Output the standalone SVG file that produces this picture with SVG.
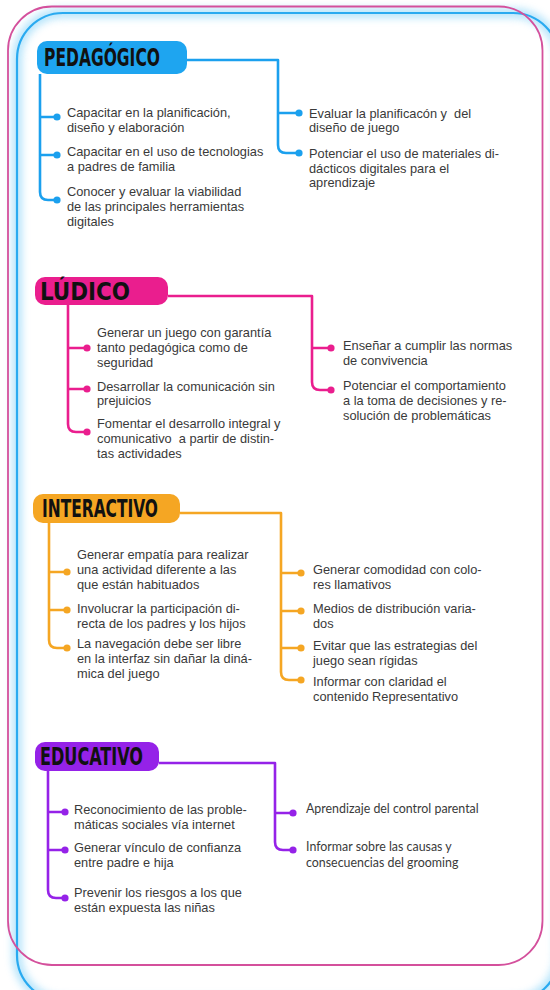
<svg xmlns="http://www.w3.org/2000/svg" width="550" height="990" viewBox="0 0 550 990">
<defs>
<filter id="glow" x="-10%" y="-10%" width="120%" height="120%">
<feGaussianBlur stdDeviation="4"/>
</filter>
<style>
text{white-space:pre}
.t{font-family:"Liberation Sans",Arial,sans-serif;font-size:12.8px;fill:#3a3a3a}
.t2{font-family:Lato,"Open Sans",sans-serif;font-size:12.4px;fill:#3a3a3a}
.h{font-family:"DejaVu Sans Condensed","Liberation Sans Narrow","DejaVu Sans",sans-serif;font-weight:bold;font-size:24px;fill:#111}
.c{fill:none;stroke-width:2.6;stroke-linejoin:round}
.blue{stroke:#1ba0ee}.mag{stroke:#ea1e8e}.ora{stroke:#f5a623}.pur{stroke:#9522e8}
</style>
</defs>
<rect width="550" height="990" fill="#fff"/>
<g id="frame">
<rect x="17" y="13" width="542" height="988" rx="46" fill="none" stroke="#7fd0f8" stroke-width="8" filter="url(#glow)" opacity="0.7"/>
<rect x="17" y="13" width="542" height="988" rx="46" fill="none" stroke="#29aaf0" stroke-width="2.2"/>
<rect x="8" y="6.5" width="534.5" height="958.5" rx="44" fill="none" stroke="#d4509c" stroke-width="1.8"/>
</g>

<g id="connectors">
<path class="c blue" d="M40 74 V192 Q40 200 48 200 H57 M40 117 H57 M40 155 H57"/>
<path class="c blue" d="M187 60 H278 V145 Q278 153 286 153 H299 M278 113 H299"/>
<path class="c mag" d="M68 305 V424 Q68 432 76 432 H87 M68 348 H87 M68 389 H87"/>
<path class="c mag" d="M168 296 H312 V382 Q312 390 320 390 H331 M312 348 H331"/>
<path class="c ora" d="M49 523 V640 Q49 648 57 648 H67 M49 572 H67 M49 610 H67"/>
<path class="c ora" d="M180 513 H281 V672 Q281 680 289 680 H301 M281 573 H301 M281 611 H301 M281 648 H301"/>
<path class="c pur" d="M48 771 V890 Q48 898 56 898 H65 M48 812 H65 M48 850 H65"/>
<path class="c pur" d="M159 763 H275 V842 Q275 850 283 850 H293 M275 813 H293"/>
</g>

<g id="dots">
<g fill="#1ba0ee"><circle cx="57" cy="117" r="3.6"/><circle cx="57" cy="155" r="3.6"/><circle cx="57" cy="200" r="3.6"/><circle cx="299" cy="113" r="3.6"/><circle cx="299" cy="153" r="3.6"/></g>
<g fill="#ea1e8e"><circle cx="87" cy="348" r="3.6"/><circle cx="87" cy="389" r="3.6"/><circle cx="87" cy="432" r="3.6"/><circle cx="331" cy="348" r="3.6"/><circle cx="331" cy="390" r="3.6"/></g>
<g fill="#f5a623"><circle cx="67" cy="572" r="3.6"/><circle cx="67" cy="610" r="3.6"/><circle cx="67" cy="648" r="3.6"/><circle cx="301" cy="573" r="3.6"/><circle cx="301" cy="611" r="3.6"/><circle cx="301" cy="648" r="3.6"/><circle cx="301" cy="680" r="3.6"/></g>
<g fill="#9522e8"><circle cx="65" cy="812" r="3.6"/><circle cx="65" cy="850" r="3.6"/><circle cx="65" cy="898" r="3.6"/><circle cx="293" cy="813" r="3.6"/><circle cx="293" cy="850" r="3.6"/></g>
</g>

<g id="pedagogico">
<rect x="37" y="41" width="150" height="33" rx="10" fill="#1ea5f0"/>
<text class="h" x="44" y="66" textLength="116" lengthAdjust="spacingAndGlyphs">PEDAGÓGICO</text>
</g>
<g id="ped-l1"><text class="t" x="67" y="117"><tspan x="67">Capacitar en la planificación,</tspan><tspan x="67" dy="15">diseño y elaboración</tspan></text></g>
<g id="ped-l2"><text class="t" x="67" y="156"><tspan x="67">Capacitar en el uso de tecnologias</tspan><tspan x="67" dy="15">a padres de familia</tspan></text></g>
<g id="ped-l3"><text class="t" x="67" y="196"><tspan x="67">Conocer y evaluar la viabilidad</tspan><tspan x="67" dy="15">de las principales herramientas</tspan><tspan x="67" dy="15">digitales</tspan></text></g>
<g id="ped-r1"><text class="t" x="309" y="117.5"><tspan x="309">Evaluar la planificacón y  del</tspan><tspan x="309" dy="14.5">diseño de juego</tspan></text></g>
<g id="ped-r2"><text class="t" x="309" y="158"><tspan x="309">Potenciar el uso de materiales di-</tspan><tspan x="309" dy="14.5">dácticos digitales para el</tspan><tspan x="309" dy="14.5">aprendizaje</tspan></text></g>

<g id="ludico">
<rect x="35" y="277" width="133" height="28" rx="10" fill="#ea1e8e"/>
<text class="h" x="40" y="300" textLength="90" lengthAdjust="spacingAndGlyphs">LÚDICO</text>
</g>
<g id="lud-l1"><text class="t" x="97" y="336.5"><tspan x="97">Generar un juego con garantía</tspan><tspan x="97" dy="15">tanto pedagógica como de</tspan><tspan x="97" dy="15">seguridad</tspan></text></g>
<g id="lud-l2"><text class="t" x="97" y="390.5"><tspan x="97">Desarrollar la comunicación sin</tspan><tspan x="97" dy="14.5">prejuicios</tspan></text></g>
<g id="lud-l3"><text class="t" x="97" y="427.5"><tspan x="97">Fomentar el desarrollo integral y</tspan><tspan x="97" dy="15">comunicativo  a partir de distin-</tspan><tspan x="97" dy="15">tas actividades</tspan></text></g>
<g id="lud-r1"><text class="t" x="343" y="349.5"><tspan x="343">Enseñar a cumplir las normas</tspan><tspan x="343" dy="15">de convivencia</tspan></text></g>
<g id="lud-r2"><text class="t" x="343" y="389.5"><tspan x="343">Potenciar el comportamiento</tspan><tspan x="343" dy="15">a la toma de decisiones y re-</tspan><tspan x="343" dy="15">solución de problemáticas</tspan></text></g>

<g id="interactivo">
<rect x="33" y="494" width="147" height="29" rx="10" fill="#f5a623"/>
<text class="h" x="42" y="517" textLength="116" lengthAdjust="spacingAndGlyphs">INTERACTIVO</text>
</g>
<g id="int-l1"><text class="t" x="77" y="559"><tspan x="77">Generar empatía para realizar</tspan><tspan x="77" dy="15">una actividad diferente a las</tspan><tspan x="77" dy="15">que están habituados</tspan></text></g>
<g id="int-l2"><text class="t" x="77" y="612.5"><tspan x="77">Involucrar la participación di-</tspan><tspan x="77" dy="15">recta de los padres y los hijos</tspan></text></g>
<g id="int-l3"><text class="t" x="77" y="647.5"><tspan x="77">La navegación debe ser libre</tspan><tspan x="77" dy="15">en la interfaz sin dañar la diná-</tspan><tspan x="77" dy="15">mica del juego</tspan></text></g>
<g id="int-r1"><text class="t" x="313" y="573.5"><tspan x="313">Generar comodidad con colo-</tspan><tspan x="313" dy="15">res llamativos</tspan></text></g>
<g id="int-r2"><text class="t" x="313" y="612.5"><tspan x="313">Medios de distribución varia-</tspan><tspan x="313" dy="15">dos</tspan></text></g>
<g id="int-r3"><text class="t" x="313" y="649.5"><tspan x="313">Evitar que las estrategias del</tspan><tspan x="313" dy="15">juego sean rígidas</tspan></text></g>
<g id="int-r4"><text class="t" x="313" y="685.5"><tspan x="313">Informar con claridad el</tspan><tspan x="313" dy="15">contenido Representativo</tspan></text></g>

<g id="educativo">
<rect x="35" y="742" width="124" height="29" rx="10" fill="#9522e8"/>
<text class="h" x="40" y="765" textLength="103" lengthAdjust="spacingAndGlyphs">EDUCATIVO</text>
</g>
<g id="edu-l1"><text class="t" x="74" y="814"><tspan x="74">Reconocimiento de las proble-</tspan><tspan x="74" dy="15">máticas sociales vía internet</tspan></text></g>
<g id="edu-l2"><text class="t" x="74" y="851.5"><tspan x="74">Generar vínculo de confianza</tspan><tspan x="74" dy="15">entre padre e hija</tspan></text></g>
<g id="edu-l3"><text class="t" x="74" y="897"><tspan x="74">Prevenir los riesgos a los que</tspan><tspan x="74" dy="15">están expuesta las niñas</tspan></text></g>
<g id="edu-r1"><text class="t2" x="306" y="813">Aprendizaje del control parental</text></g>
<g id="edu-r2"><text class="t2" x="306" y="851"><tspan x="306">Informar sobre las causas y</tspan><tspan x="306" dy="16">consecuencias del grooming</tspan></text></g>
</svg>
